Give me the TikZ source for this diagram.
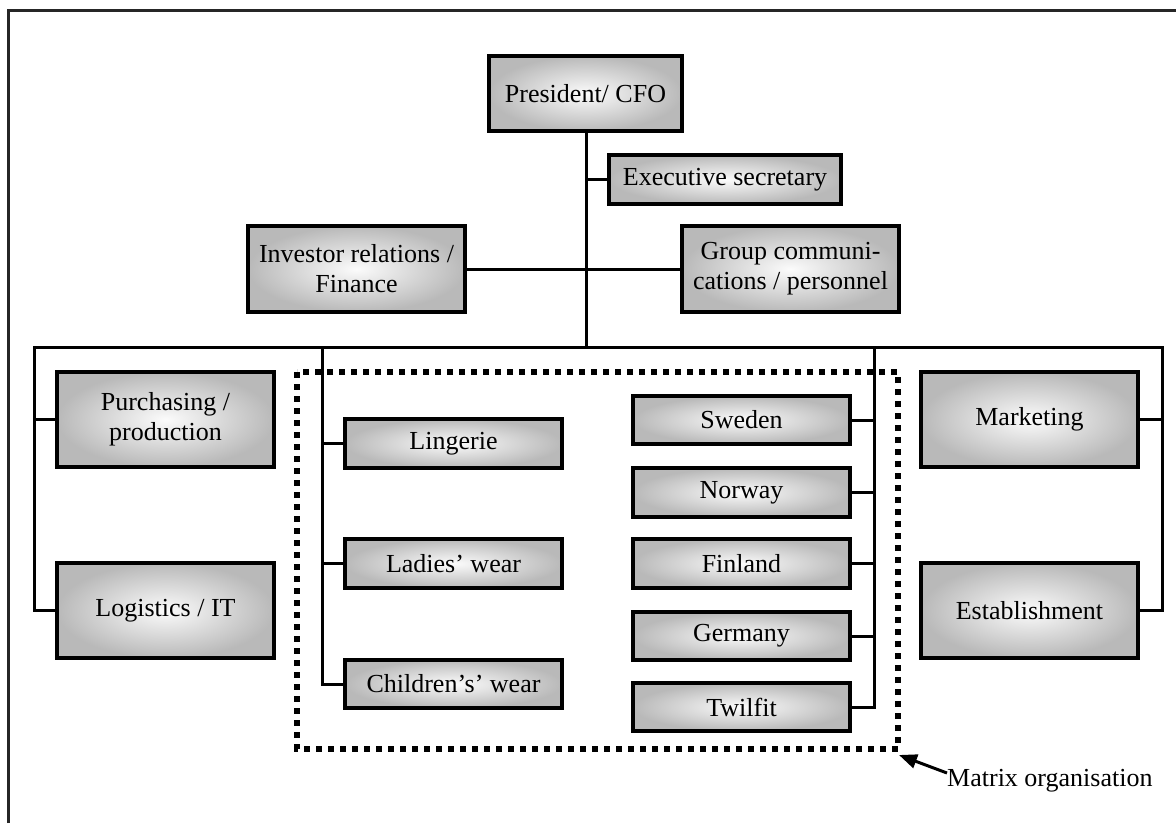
\documentclass[tikz,border=0pt]{standalone}
\usepackage{fontspec}
\setmainfont{Liberation Serif}
\usetikzlibrary{arrows.meta}
\begin{document}
\begin{tikzpicture}[x=1pt,y=-1pt,
  unit/.style={draw=black, line width=3.5pt, shading=radial,
    inner color=gray!3, outer color=gray!55, inner sep=0pt,
    align=center, font=\fontsize{26}{30}\selectfont},
  link/.style={line width=3pt, line cap=rect},
  matrixframe/.style={line width=6pt, dash pattern=on 6pt off 6pt}]
\useasboundingbox (0,0) rectangle (1176,823);
% outer frame (only top and left edges visible)
\draw[line width=3pt, black!85] (8,823) -- (8,10) -- (1176,10);

% box given by its corners: name, x1, y1, x2, y2, text
\newcommand{\unitbox}[6]{%
  \node[unit, minimum width=#4-#2, minimum height=#5-#3] (#1)
    at ({(#2+#4)/2},{(#3+#5)/2}) {#6};}

\unitbox{pres}{489}{56}{682}{131}{President/ CFO}
\unitbox{exec}{609}{155}{841}{204}{Executive secretary}
\unitbox{inv}{248}{226}{465}{312}{Investor relations /\\Finance}
\unitbox{grp}{682}{226}{899}{312}{Group communi-\\cations / personnel}
\unitbox{purch}{57}{372}{274}{467}{Purchasing /\\production}
\unitbox{logi}{57}{563}{274}{658}{Logistics / IT}
\unitbox{mkt}{921}{372}{1138}{467}{Marketing}
\unitbox{est}{921}{563}{1138}{658}{Establishment}
\unitbox{ling}{345}{419}{562}{468}{Lingerie}
\unitbox{ladies}{345}{539}{562}{588}{Ladies' wear}
\unitbox{child}{345}{660}{562}{708}{Children's' wear}
\unitbox{swe}{633}{396}{850}{444}{Sweden}
\unitbox{nor}{633}{468}{850}{517}{Norway}
\unitbox{fin}{633}{539}{850}{588}{Finland}
\unitbox{ger}{633}{612}{850}{660}{Germany}
\unitbox{twi}{633}{683}{850}{731}{Twilfit}

% bus junctions
\coordinate (bus) at (586,347);
\coordinate (busL) at (34,347);
\coordinate (busR) at (1162,347);
\coordinate (colL) at (322,347);
\coordinate (colR) at (874,347);

% trunk and top level links
\draw[link] (pres.south -| bus) -- (bus);
\draw[link] (exec.west) -- (exec.west -| bus);
\draw[link] (inv.east) -- (grp.west);
\draw[link] (busL) -- (busR);

% outer columns
\draw[link] (busL) |- (logi.west);
\draw[link] (purch.west) -- (purch.west -| busL);
\draw[link] (busR) |- (est.east);
\draw[link] (mkt.east) -- (mkt.east -| busR);

% product line column
\draw[link] (colL) |- (child.west);
\draw[link] (ling.west) -- (ling.west -| colL);
\draw[link] (ladies.west) -- (ladies.west -| colL);

% market column
\draw[link] (colR) |- (twi.east);
\foreach \m in {swe,nor,fin,ger}
  \draw[link] (\m.east) -- (\m.east -| colR);

% matrix organisation frame
\draw[matrixframe] (297,372) rectangle (898,749);
\coordinate (tip) at (899,755);
\node[anchor=west, inner sep=0pt, font=\fontsize{26}{28}\selectfont]
  (mlabel) at (947,781) {Matrix organisation};
\draw[line width=3pt, -{Triangle[length=18pt,width=14pt]}]
  (mlabel.west) ++(0,-8) -- (tip);
\end{tikzpicture}
\end{document}
